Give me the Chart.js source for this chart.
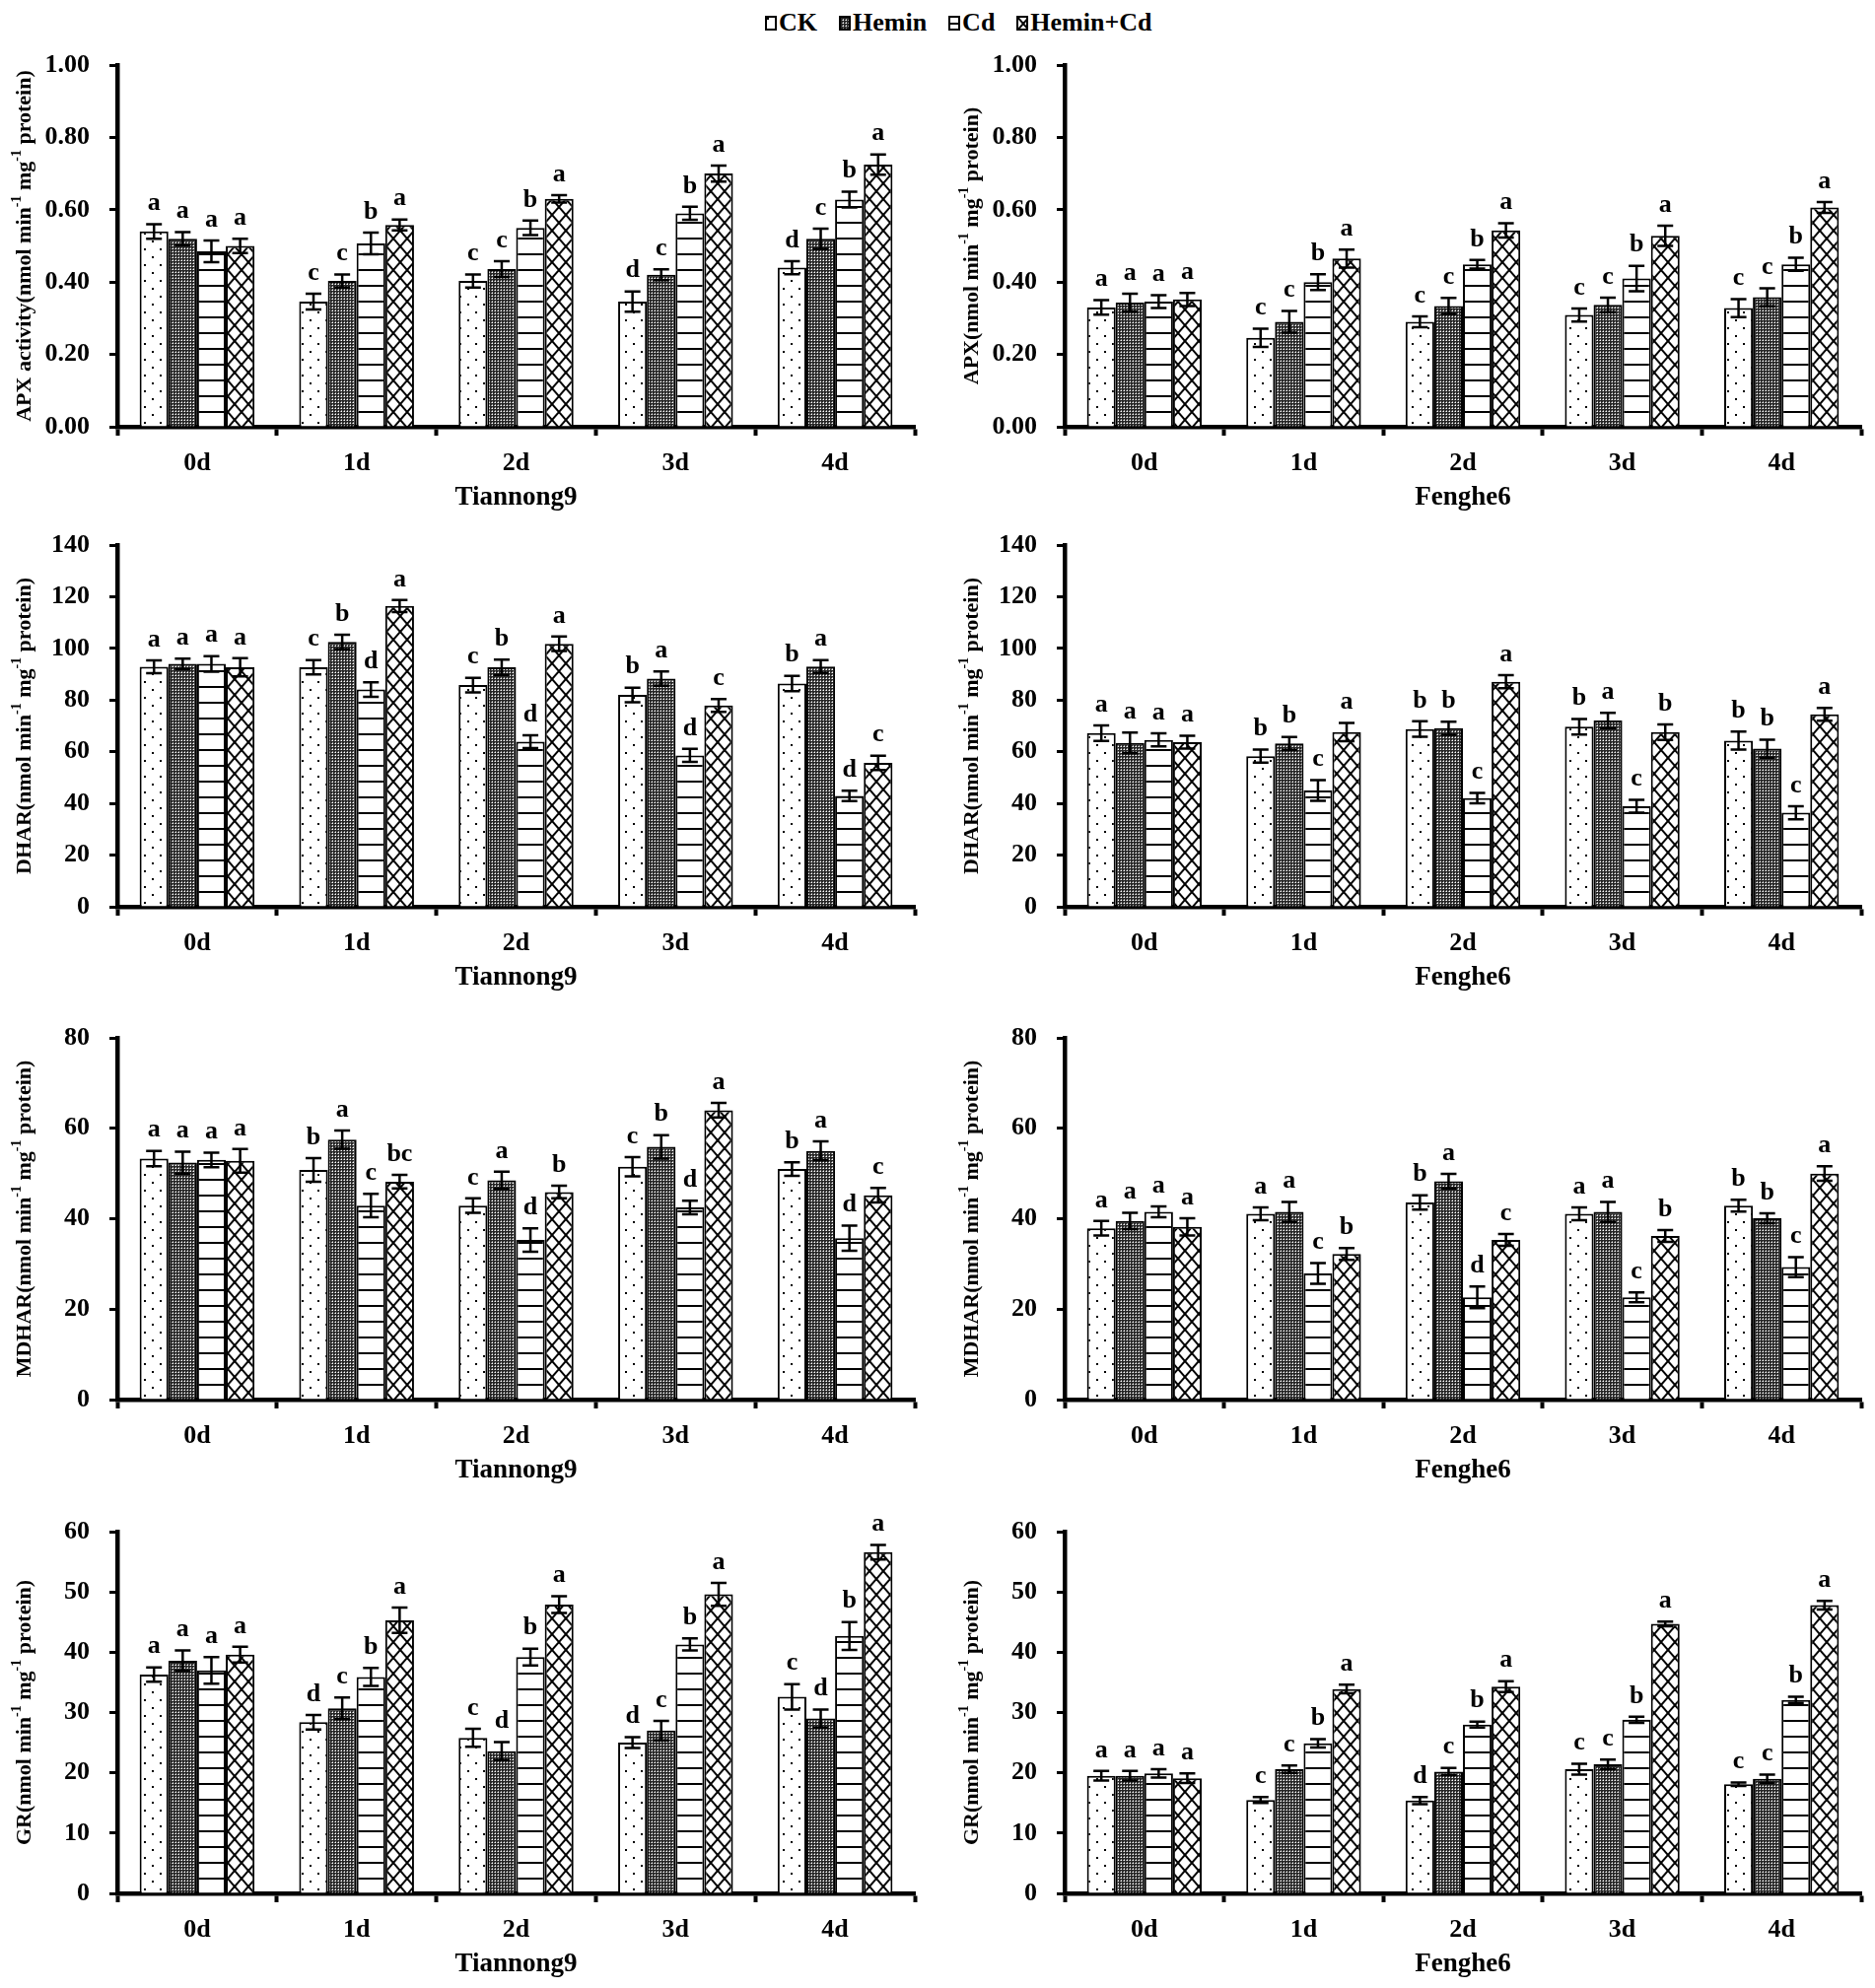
<!DOCTYPE html>
<html>
<head>
<meta charset="utf-8">
<script src="https://cdn.jsdelivr.net/npm/chart.js@4.4.1/dist/chart.umd.min.js"></script>
<style>
  body { margin: 0; background: #fff; width: 1902px; height: 2017px; overflow: hidden; position: relative; }
  canvas.panel { position: absolute; }
  .legend { position: absolute; left: 776px; top: 8px; display: flex; align-items: center;
            font: bold 26px "Liberation Serif", serif; color: #000; }
  .legend span { display: flex; align-items: center; margin-right: 22px; }
  .legend canvas { margin-right: 2px; }
</style>
</head>
<body>
<div class="legend" id="legend"></div>

<script>
// categories and treatments
const days = ["0d", "1d", "2d", "3d", "4d"];
const treatments = ["CK", "Hemin", "Cd", "Hemin+Cd"];

// each panel: one row per treatment (CK, Hemin, Cd, Hemin+Cd), values for 0d..4d
const apxT9 = [[0.54, 0.346, 0.403, 0.346, 0.44], [0.52, 0.403, 0.436, 0.42, 0.52], [0.485, 0.507, 0.55, 0.59, 0.628], [0.50, 0.558, 0.63, 0.70, 0.725]];
const apxT9Err = [[0.02, 0.022, 0.018, 0.028, 0.018], [0.018, 0.018, 0.022, 0.015, 0.028], [0.03, 0.03, 0.02, 0.018, 0.022], [0.02, 0.015, 0.01, 0.022, 0.028]];
const apxT9Sig = [["a", "c", "c", "d", "d"], ["a", "c", "c", "c", "c"], ["a", "b", "b", "b", "b"], ["a", "a", "a", "a", "a"]];

const apxF6 = [[0.33, 0.246, 0.29, 0.309, 0.328], [0.343, 0.29, 0.334, 0.337, 0.358], [0.346, 0.40, 0.449, 0.41, 0.449], [0.352, 0.465, 0.543, 0.528, 0.606]];
const apxF6Err = [[0.02, 0.025, 0.015, 0.018, 0.025], [0.025, 0.03, 0.022, 0.02, 0.025], [0.018, 0.022, 0.012, 0.035, 0.018], [0.018, 0.025, 0.02, 0.028, 0.015]];
const apxF6Sig = [["a", "c", "c", "c", "c"], ["a", "c", "c", "c", "c"], ["a", "b", "b", "b", "b"], ["a", "a", "a", "a", "a"]];

const dharT9 = [[92.9, 92.7, 85.8, 82, 86.4], [94, 102.5, 92.7, 88.3, 93], [94, 84.1, 63.9, 58.6, 42.9], [92.7, 116.4, 101.8, 77.9, 55.7]];
const dharT9Err = [[2.5, 2.8, 2.8, 2.8, 3], [2, 2.8, 3, 2.8, 2.5], [3, 2.8, 2.5, 2.5, 2], [3.5, 2.3, 2.8, 2.5, 2.8]];
const dharT9Sig = [["a", "c", "c", "b", "b"], ["a", "b", "b", "a", "a"], ["a", "d", "d", "d", "d"], ["a", "a", "a", "c", "c"]];

const dharF6 = [[67.2, 58.3, 68.8, 69.7, 64.3], [63.4, 63.2, 69.1, 72.1, 61.2], [64.6, 45, 42.1, 38.9, 36.4], [63.7, 67.6, 87.1, 67.6, 74.5]];
const dharF6Err = [[3, 2.5, 3, 3, 3.5], [4, 2.5, 2.5, 3, 3.5], [2.5, 4, 2, 2.5, 2.5], [2.5, 3.5, 2.5, 3, 2.5]];
const dharF6Sig = [["a", "b", "b", "b", "b"], ["a", "b", "b", "a", "b"], ["a", "c", "c", "c", "c"], ["a", "a", "a", "b", "a"]];

const mdharT9 = [[53.3, 50.8, 42.9, 51.5, 51], [52.4, 57.5, 48.5, 55.9, 55], [53, 42.9, 35.3, 42.5, 35.7], [52.8, 48.2, 45.9, 64, 45.2]];
const mdharT9Err = [[1.7, 2.6, 1.6, 2.1, 1.5], [2.4, 2, 1.9, 2.6, 2.1], [1.6, 2.6, 2.6, 1.5, 2.8], [2.6, 1.5, 1.4, 1.6, 1.6]];
const mdharT9Sig = [["a", "b", "c", "c", "b"], ["a", "a", "a", "b", "a"], ["a", "c", "d", "d", "d"], ["a", "bc", "b", "a", "c"]];

const mdharF6 = [[37.9, 41.1, 43.6, 41.1, 42.9], [39.5, 41.5, 48.3, 41.5, 40.1], [41.5, 27.9, 22.6, 22.6, 29.3], [38.2, 32.2, 35.3, 36.2, 50]];
const mdharF6Err = [[1.6, 1.4, 1.6, 1.4, 1.3], [1.8, 2.2, 1.6, 2.2, 1.1], [1.2, 2.3, 2.4, 1.1, 2.2], [1.9, 1.3, 1.3, 1.3, 1.6]];
const mdharF6Sig = [["a", "a", "b", "a", "b"], ["a", "a", "a", "a", "b"], ["a", "c", "d", "c", "c"], ["a", "b", "c", "b", "a"]];

const grT9 = [[36.3, 28.4, 25.8, 25, 32.6], [38.6, 30.7, 23.6, 27, 29], [37, 35.9, 39.2, 41.3, 42.7], [39.6, 45.3, 47.9, 49.6, 56.6]];
const grT9Err = [[1.2, 1.2, 1.5, 0.9, 2.1], [1.7, 1.8, 1.5, 1.6, 1.5], [2.2, 1.5, 1.4, 1.0, 2.3], [1.3, 2.1, 1.4, 1.9, 1.2]];
const grT9Sig = [["a", "d", "c", "d", "c"], ["a", "c", "d", "c", "d"], ["a", "b", "b", "b", "b"], ["a", "a", "a", "a", "a"]];

const grF6 = [[19.5, 15.5, 15.4, 20.6, 18.1], [19.5, 20.6, 20.2, 21.4, 19], [19.9, 24.9, 28, 28.8, 32.1], [19.1, 33.9, 34.3, 44.7, 47.8]];
const grF6Err = [[0.8, 0.5, 0.6, 0.9, 0.3], [0.8, 0.6, 0.6, 0.8, 0.7], [0.7, 0.7, 0.5, 0.5, 0.5], [0.8, 0.7, 0.9, 0.4, 0.7]];
const grF6Sig = [["a", "c", "d", "c", "c"], ["a", "c", "c", "c", "c"], ["a", "b", "b", "b", "b"], ["a", "a", "a", "a", "a"]];

const FONT = '"Liberation Serif", serif';

// fill patterns for the four treatments
function makePattern(kind) {
  const c = document.createElement("canvas");
  let ctx;
  if (kind === 0) { // sparse dots
    c.width = 16; c.height = 16; ctx = c.getContext("2d");
    ctx.fillStyle = "#fff"; ctx.fillRect(0, 0, 16, 16);
    ctx.fillStyle = "#000"; ctx.fillRect(2, 2, 2, 2); ctx.fillRect(10, 10, 2, 2);
  } else if (kind === 1) { // dense dark texture with small light dots
    c.width = 3; c.height = 3; ctx = c.getContext("2d");
    ctx.fillStyle = "#262626"; ctx.fillRect(0, 0, 3, 3);
    ctx.fillStyle = "#9a9a9a";
    ctx.fillRect(0, 1, 1, 1); ctx.fillRect(1, 0, 1, 1);
    ctx.fillStyle = "#fff";
    ctx.fillRect(1, 1, 1, 1);
  } else if (kind === 2) { // horizontal lines
    c.width = 16; c.height = 16; ctx = c.getContext("2d");
    ctx.fillStyle = "#fff"; ctx.fillRect(0, 0, 16, 16);
    ctx.fillStyle = "#000"; ctx.fillRect(0, 7, 16, 2);
  } else { // diagonal cross hatch
    c.width = 14; c.height = 16; ctx = c.getContext("2d");
    ctx.fillStyle = "#fff"; ctx.fillRect(0, 0, 14, 16);
    ctx.strokeStyle = "#000"; ctx.lineWidth = 2;
    ctx.beginPath();
    ctx.moveTo(-1, -16 / 14); ctx.lineTo(15, 16 + 16 / 14);
    ctx.moveTo(15, -16 / 14); ctx.lineTo(-1, 16 + 16 / 14);
    ctx.stroke();
  }
  return c;
}

const tiles = [0, 1, 2, 3].map(makePattern);

function patternFor(ctx, i) {
  return ctx.createPattern(tiles[i], "repeat");
}

// legend
const legend = document.getElementById("legend");
treatments.forEach((t, i) => {
  const item = document.createElement("span");
  const sw = document.createElement("canvas");
  sw.width = 12; sw.height = 15;
  const sctx = sw.getContext("2d");
  sctx.fillStyle = patternFor(sctx, i);
  sctx.fillRect(0, 0, 12, 15);
  sctx.strokeStyle = "#000"; sctx.lineWidth = 2;
  sctx.strokeRect(1, 1, 10, 13);
  item.appendChild(sw);
  item.appendChild(document.createTextNode(t));
  legend.appendChild(item);
});

// y title with superscripts, drawn rotated
function drawYTitle(ctx, x, cy, prefix) {
  const parts = [[prefix + "(nmol min", 0], ["-1", 1], [" mg", 0], ["-1", 1], [" protein)", 0]];
  const big = 'bold 22px ' + FONT, small = 'bold 14px ' + FONT;
  ctx.save();
  let total = 0;
  parts.forEach(p => { ctx.font = p[1] ? small : big; total += ctx.measureText(p[0]).width; });
  ctx.translate(x, cy);
  ctx.rotate(-Math.PI / 2);
  ctx.fillStyle = "#000";
  ctx.textBaseline = "middle";
  ctx.textAlign = "left";
  let pos = -total / 2;
  parts.forEach(p => {
    ctx.font = p[1] ? small : big;
    ctx.fillText(p[0], pos, p[1] ? -8 : 0);
    pos += ctx.measureText(p[0]).width;
  });
  ctx.restore();
}

function buildPanel(vals, errs, sigs, yMax, yStep, dec, yPrefix, xTitle, col, axisTop) {
  const canvas = document.createElement("canvas");
  canvas.className = "panel";
  const left = col === 0 ? 0 : 950;
  const w = col === 0 ? 950 : 952;
  const h = 40 + 367 + 95;
  canvas.width = w; canvas.height = h;
  canvas.style.left = left + "px";
  canvas.style.top = (axisTop - 40) + "px";
  document.body.appendChild(canvas);
  const ctx = canvas.getContext("2d");
  const yW = col === 0 ? 119 : 130;
  const padR = col === 0 ? 22 : 14;
  const tickFont = { family: FONT, weight: "bold", size: 26 };

  new Chart(canvas, {
    type: "bar",
    data: {
      labels: days,
      datasets: treatments.map((t, i) => ({
        label: t,
        data: vals[i],
        backgroundColor: patternFor(ctx, i),
        borderColor: "#000",
        borderWidth: 2,
        categoryPercentage: 0.72,
        barPercentage: 1
      }))
    },
    options: {
      responsive: false,
      animation: false,
      layout: { padding: { top: 40, right: padR, left: 0, bottom: 0 } },
      plugins: { legend: { display: false }, tooltip: { enabled: false } },
      scales: {
        x: {
          grid: { display: true, drawOnChartArea: false, offset: true, tickLength: 9, tickWidth: 4, tickColor: "#000" },
          border: { display: true, color: "#000", width: 4.5 },
          ticks: { color: "#000", font: tickFont, padding: 13, maxRotation: 0 },
          afterFit(s) { s.height = 95; }
        },
        y: {
          min: 0, max: yMax,
          grid: { drawOnChartArea: false, tickLength: 8, tickWidth: 3, tickColor: "#000" },
          border: { display: true, color: "#000", width: 4.5 },
          ticks: { stepSize: yStep, color: "#000", font: tickFont, padding: 20, callback: v => v.toFixed(dec) },
          afterFit(s) { s.width = yW; }
        }
      }
    },
    plugins: [{
      id: "marks",
      afterDatasetsDraw(chart) {
        const c = chart.ctx, ys = chart.scales.y;
        c.save();
        c.strokeStyle = "#000"; c.fillStyle = "#000"; c.lineWidth = 2.5;
        c.font = 'bold 26px ' + FONT;
        c.textAlign = "center"; c.textBaseline = "bottom";
        treatments.forEach((t, i) => {
          chart.getDatasetMeta(i).data.forEach((bar, j) => {
            const v = vals[i][j], e = errs[i][j];
            const yt = ys.getPixelForValue(v + e), yb = ys.getPixelForValue(v - e);
            c.beginPath();
            c.moveTo(bar.x, yt); c.lineTo(bar.x, yb);
            c.moveTo(bar.x - 8, yt); c.lineTo(bar.x + 8, yt);
            c.moveTo(bar.x - 8, yb); c.lineTo(bar.x + 8, yb);
            c.stroke();
            c.fillText(sigs[i][j], bar.x, yt - 8);
          });
        });
        c.restore();
      },
      afterDraw(chart) {
        const c = chart.ctx, a = chart.chartArea;
        drawYTitle(c, a.left - 94, (a.top + a.bottom) / 2, yPrefix);
        c.save();
        c.fillStyle = "#000";
        c.font = 'bold 27px ' + FONT;
        c.textAlign = "center"; c.textBaseline = "middle";
        c.fillText(xTitle, (a.left + a.right) / 2, a.bottom + 72);
        c.restore();
      }
    }]
  });
}

buildPanel(apxT9, apxT9Err, apxT9Sig, 1, 0.2, 2, "APX activity", "Tiannong9", 0, 66);
buildPanel(apxF6, apxF6Err, apxF6Sig, 1, 0.2, 2, "APX", "Fenghe6", 1, 66);
buildPanel(dharT9, dharT9Err, dharT9Sig, 140, 20, 0, "DHAR", "Tiannong9", 0, 553);
buildPanel(dharF6, dharF6Err, dharF6Sig, 140, 20, 0, "DHAR", "Fenghe6", 1, 553);
buildPanel(mdharT9, mdharT9Err, mdharT9Sig, 80, 20, 0, "MDHAR", "Tiannong9", 0, 1053);
buildPanel(mdharF6, mdharF6Err, mdharF6Sig, 80, 20, 0, "MDHAR", "Fenghe6", 1, 1053);
buildPanel(grT9, grT9Err, grT9Sig, 60, 10, 0, "GR", "Tiannong9", 0, 1554);
buildPanel(grF6, grF6Err, grF6Sig, 60, 10, 0, "GR", "Fenghe6", 1, 1554);
</script>
</body>
</html>
